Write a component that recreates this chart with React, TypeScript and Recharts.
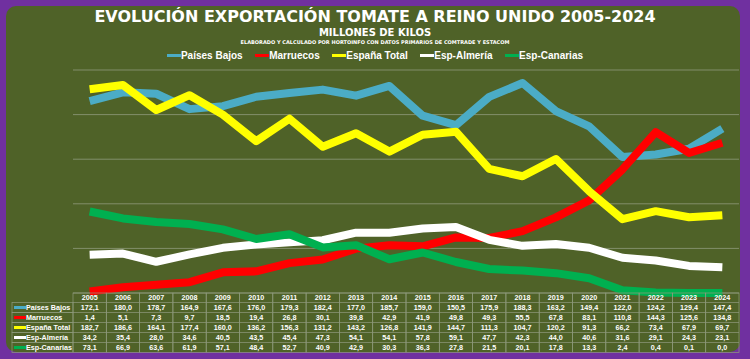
import { CartesianGrid, Line, LineChart, XAxis, YAxis } from 'recharts';

const years = [
  '2005', '2006', '2007', '2008', '2009', '2010', '2011', '2012', '2013', '2014',
  '2015', '2016', '2017', '2018', '2019', '2020', '2021', '2022', '2023', '2024',
];

const paisesBajos = [172.1, 180.0, 178.7, 164.9, 167.6, 176.0, 179.3, 182.4, 177.0, 185.7, 159.0, 150.5, 175.9, 188.3, 163.2, 149.4, 122.0, 124.2, 129.4, 147.4];
const marruecos = [1.4, 5.1, 7.3, 9.7, 18.5, 19.4, 26.8, 30.1, 39.8, 42.9, 41.9, 49.8, 49.3, 55.5, 67.8, 83.1, 110.8, 144.3, 125.6, 134.8];
const espanaTotal = [182.7, 186.6, 164.1, 177.4, 160.0, 136.2, 156.3, 131.2, 143.2, 126.8, 141.9, 144.7, 111.3, 104.7, 120.2, 91.3, 66.2, 73.4, 67.9, 69.7];
const espAlmeria = [34.2, 35.4, 28.0, 34.6, 40.5, 43.5, 45.4, 47.3, 54.1, 54.1, 57.8, 59.1, 47.7, 42.3, 44.0, 40.6, 31.6, 29.1, 24.3, 23.1];
const espCanarias = [73.1, 66.9, 63.6, 61.9, 57.1, 48.4, 52.7, 40.9, 42.9, 30.3, 36.3, 27.8, 21.5, 20.1, 17.8, 13.3, 2.4, 0.4, 0.1, 0.0];

const yTicks = [0, 20, 40, 60, 80, 100, 120, 140, 160, 180, 200];

const series = [
  { key: 'pb', name: 'Países Bajos', color: '#4BACC6', values: paisesBajos },
  { key: 'ma', name: 'Marruecos', color: '#FF0000', values: marruecos },
  { key: 'es', name: 'España Total', color: '#FFFF00', values: espanaTotal },
  { key: 'al', name: 'Esp-Almería', color: '#FFFFFF', values: espAlmeria },
  { key: 'ca', name: 'Esp-Canarias', color: '#00B050', values: espCanarias },
];

const data = years.map((year, i) => {
  const row: Record<string, string | number> = { year };
  series.forEach((s) => {
    row[s.key] = s.values[i];
  });
  return row;
});

const fmt = (v: number) => v.toFixed(1).replace('.', ',');

const PLOT_LEFT = 73;
const PLOT_RIGHT = 739;
const BAND = (PLOT_RIGHT - PLOT_LEFT) / years.length;
const HEADER_H = 9.5;
const ROW_H = 10;
const GRID = '#8f9a7c';
const tableFont = { fontFamily: 'Liberation Sans, Arial, sans-serif', fontWeight: 700, fontSize: 7.2 };

function TableTick(props: any) {
  const { x, y, payload, index } = props;
  const top = y;
  const left = x - BAND / 2;
  return (
    <g>
      <rect x={left} y={top} width={BAND} height={HEADER_H + ROW_H * 5} fill="none" stroke={GRID} strokeWidth={0.7} />
      {series.map((s, r) => (
        <line key={s.key} x1={left} x2={left + BAND} y1={top + HEADER_H + ROW_H * r} y2={top + HEADER_H + ROW_H * r} stroke={GRID} strokeWidth={0.7} />
      ))}
      <text x={x} y={top + HEADER_H / 2 + 2.6} textAnchor="middle" fill="#fff" style={tableFont}>
        {payload.value}
      </text>
      {series.map((s, r) => (
        <text key={s.key} x={x} y={top + HEADER_H + ROW_H * r + ROW_H / 2 + 2.6} textAnchor="middle" fill="#fff" style={tableFont}>
          {fmt(s.values[index])}
        </text>
      ))}
      {index === 0 &&
        series.map((s, r) => {
          const rowTop = top + HEADER_H + ROW_H * r;
          return (
            <g key={s.key}>
              <rect x={12} y={rowTop} width={left - 12} height={ROW_H} fill="none" stroke={GRID} strokeWidth={0.7} />
              <line x1={14} x2={26} y1={rowTop + ROW_H / 2} y2={rowTop + ROW_H / 2} stroke={s.color} strokeWidth={3} />
              <text x={26} y={rowTop + ROW_H / 2 + 2.6} fill="#fff" style={tableFont}>
                {s.name}
              </text>
            </g>
          );
        })}
    </g>
  );
}

function TopLegend() {
  return (
    <div style={{ position: 'absolute', left: 0, top: 49, width: 750, display: 'flex', justifyContent: 'center', gap: 12.5, fontFamily: 'Liberation Sans, Arial, sans-serif', fontWeight: 700, fontSize: 10, lineHeight: '13px', color: '#fff' }}>
      {series.map((s) => (
        <div key={s.key} style={{ display: 'flex', alignItems: 'center' }}>
          <span style={{ display: 'inline-block', width: 14, height: 3.5, background: s.color }} />
          {s.name}
        </div>
      ))}
    </div>
  );
}

export default function App() {
  return (
    <div style={{ position: 'absolute', left: 0, top: 0, width: 750, height: 359, background: '#7030A0', overflow: 'hidden' }}>
      <div style={{ position: 'absolute', left: 6, top: 6, width: 734, height: 346, background: '#4F6228', borderRadius: 10 }} />
      <div style={{ position: 'absolute', left: 0, top: 7, width: 750, textAlign: 'center', color: '#fff', fontFamily: 'DejaVu Sans, sans-serif', fontWeight: 700, fontSize: 16, lineHeight: '20px' }}>
        EVOLUCIÓN EXPORTACIÓN TOMATE A REINO UNIDO 2005-2024
      </div>
      <div style={{ position: 'absolute', left: 0, top: 27, width: 750, textAlign: 'center', color: '#fff', fontFamily: 'DejaVu Sans, sans-serif', fontWeight: 700, fontSize: 10, lineHeight: '12px' }}>
        MILLONES DE KILOS
      </div>
      <div style={{ position: 'absolute', left: 0, top: 39, width: 750, textAlign: 'center', color: '#fff', fontFamily: 'DejaVu Sans, sans-serif', fontWeight: 700, fontSize: 5, lineHeight: '6px' }}>
        ELABORADO Y CALCULADO POR HORTOINFO CON DATOS PRIMARIOS DE COMTRADE Y ESTACOM
      </div>
      <TopLegend />
      <LineChart width={750} height={359} data={data} margin={{ top: 70, right: 750 - PLOT_RIGHT, left: PLOT_LEFT, bottom: 6 }} style={{ position: 'absolute', left: 0, top: 0 }}>
        <CartesianGrid vertical={false} stroke={GRID} strokeWidth={0.8} />
        <XAxis
          dataKey="year"
          axisLine={false}
          tickLine={false}
          tickSize={0}
          tickMargin={0}
          height={60}
          interval={0}
          padding={{ left: BAND / 2, right: BAND / 2 }}
          tick={<TableTick />}
        />
        <YAxis hide domain={[0, 200]} ticks={yTicks} />
        {series.map((s) => (
          <Line
            key={s.key}
            dataKey={s.key}
            name={s.name}
            stroke={s.color}
            strokeWidth={8}
            strokeLinejoin="round"
            dot={false}
            activeDot={false}
            isAnimationActive={false}
          />
        ))}
      </LineChart>
    </div>
  );
}
